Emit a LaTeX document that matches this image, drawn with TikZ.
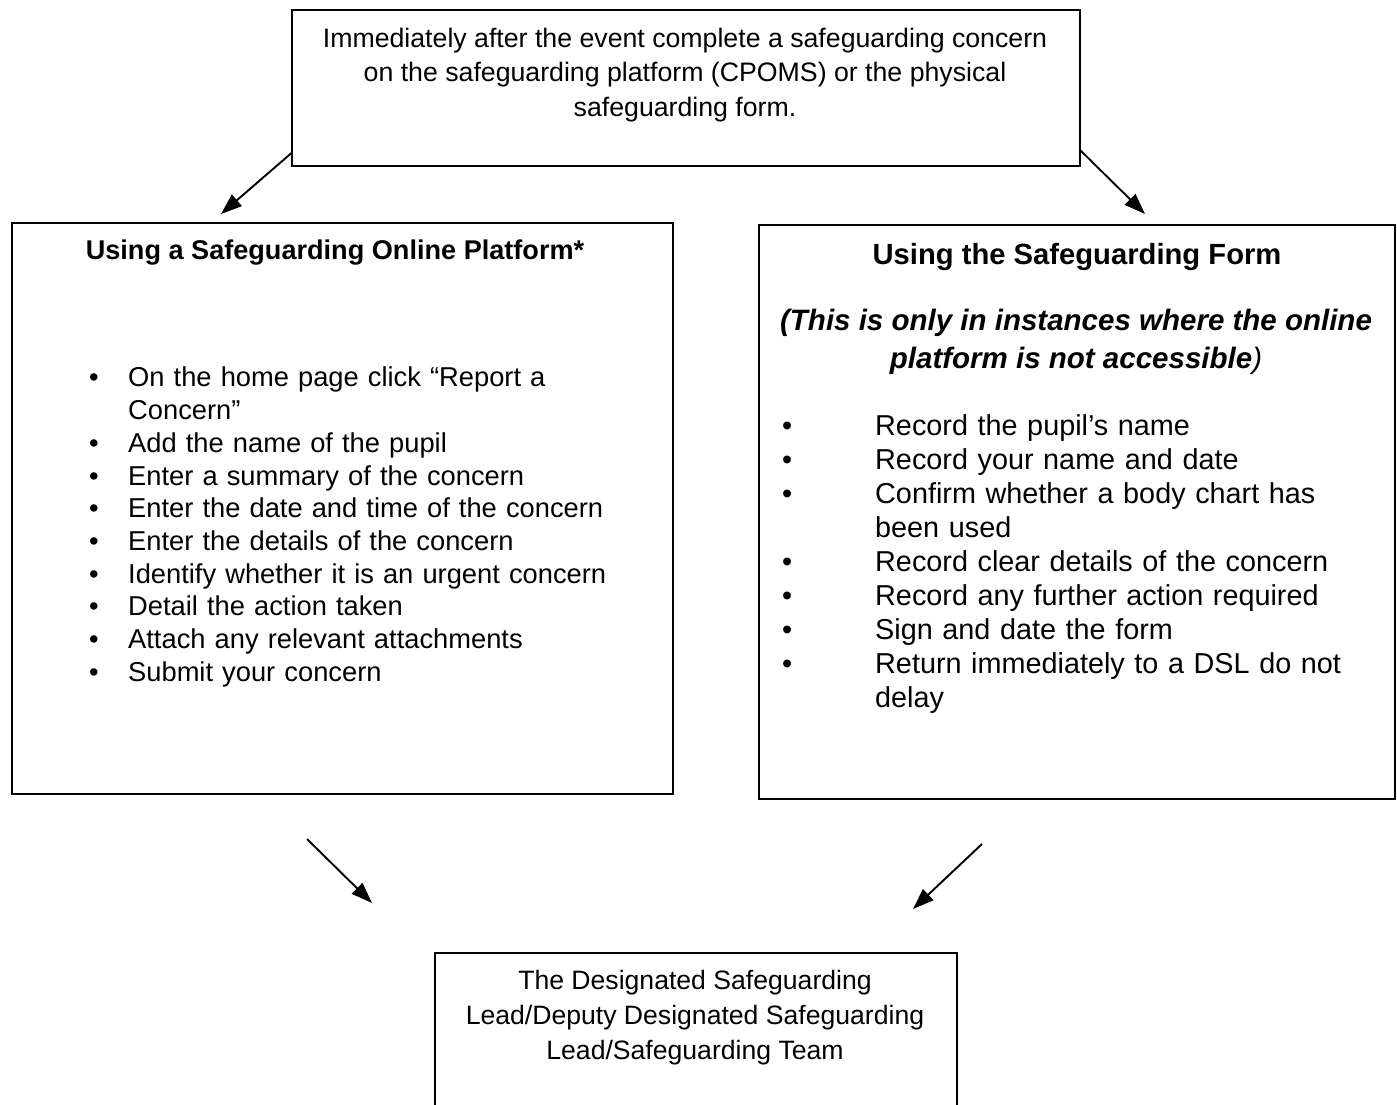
\documentclass[tikz,border=0pt]{standalone}
\usepackage{fontspec}
\setmainfont{Liberation Sans}
\usetikzlibrary{arrows.meta}
\newcommand\lblt{\hangindent=39pt\hangafter=1\noindent\makebox[39pt][l]{\textbullet}}
\newcommand\rblt{\hangindent=93pt\hangafter=1\noindent\makebox[93pt][l]{\textbullet}}
\begin{document}
\begin{tikzpicture}[x=1pt,y=-1pt,
  box/.style={draw,line width=1.8pt,inner sep=0pt,anchor=north west},
  arr/.style={line width=1.9pt,-{Triangle[length=21pt,width=15pt]}},
  txt/.style={inner sep=0pt}]
\clip (0,0) rectangle (1397,1105);
\fill[white] (0,0) rectangle (1397,1105);
% boxes
\node[box,minimum width=788pt,minimum height=156pt] (top) at (291,9) {};
\node[box,minimum width=661pt,minimum height=571pt] (left) at (11,222) {};
\node[box,minimum width=636pt,minimum height=574pt] (right) at (758,224) {};
\node[box,minimum width=522pt,minimum height=200pt] (bottom) at (434,952) {};
% texts
\node[txt,align=center,font=\fontsize{26.7}{34.5}\selectfont] (toptext) at (685,75)
  {Immediately after the event complete a safeguarding concern\\
   on the safeguarding platform (CPOMS) or the physical\\
   safeguarding form.};
\node[txt,font=\bfseries\fontsize{27.1}{32}\selectfont] (lefttitle) at (335,253)
  {Using a Safeguarding Online Platform*};
\node[txt,anchor=north west,text width=620pt,font=\fontsize{27.3}{32.7}\selectfont] (leftlist) at (89,367)
  {\parskip=0pt\raggedright
   \lblt On the home page click “Report a\newline Concern”\par
   \lblt Add the name of the pupil\par
   \lblt Enter a summary of the concern\par
   \lblt Enter the date and time of the concern\par
   \lblt Enter the details of the concern\par
   \lblt Identify whether it is an urgent concern\par
   \lblt Detail the action taken\par
   \lblt Attach any relevant attachments\par
   \lblt Submit your concern\par};
\node[txt,font=\bfseries\fontsize{29.2}{34}\selectfont] (righttitle) at (1077,257)
  {Using the Safeguarding Form};
\node[txt,align=center,font=\bfseries\itshape\fontsize{29.5}{38}\selectfont] (rightnote) at (1076,342)
  {(This is only in instances where the online\\
   platform is not accessible\textmd{)}};
\node[txt,anchor=north west,text width=610pt,font=\fontsize{28.8}{34}\selectfont] (rightlist) at (782,414)
  {\parskip=0pt\raggedright
   \rblt Record the pupil’s name\par
   \rblt Record your name and date\par
   \rblt Confirm whether a body chart has\newline been used\par
   \rblt Record clear details of the concern\par
   \rblt Record any further action required\par
   \rblt Sign and date the form\par
   \rblt Return immediately to a DSL do not\newline delay\par};
\node[txt,align=center,font=\fontsize{26.6}{35}\selectfont] (bottomtext) at (695,1018)
  {The Designated Safeguarding\\
   Lead/Deputy Designated Safeguarding\\
   Lead/Safeguarding Team};
% arrows
\coordinate (a1s) at (291.5,153);
\coordinate (a1e) at (221,214);
\coordinate (a2s) at (1079.5,149.5);
\coordinate (a2e) at (1145,214);
\coordinate (a3s) at (307,839);
\coordinate (a3e) at (372,903);
\coordinate (a4s) at (982,844);
\coordinate (a4e) at (913,909);
\draw[arr] (a1s) -- (a1e);
\draw[arr] (a2s) -- (a2e);
\draw[arr] (a3s) -- (a3e);
\draw[arr] (a4s) -- (a4e);
\end{tikzpicture}
\end{document}
